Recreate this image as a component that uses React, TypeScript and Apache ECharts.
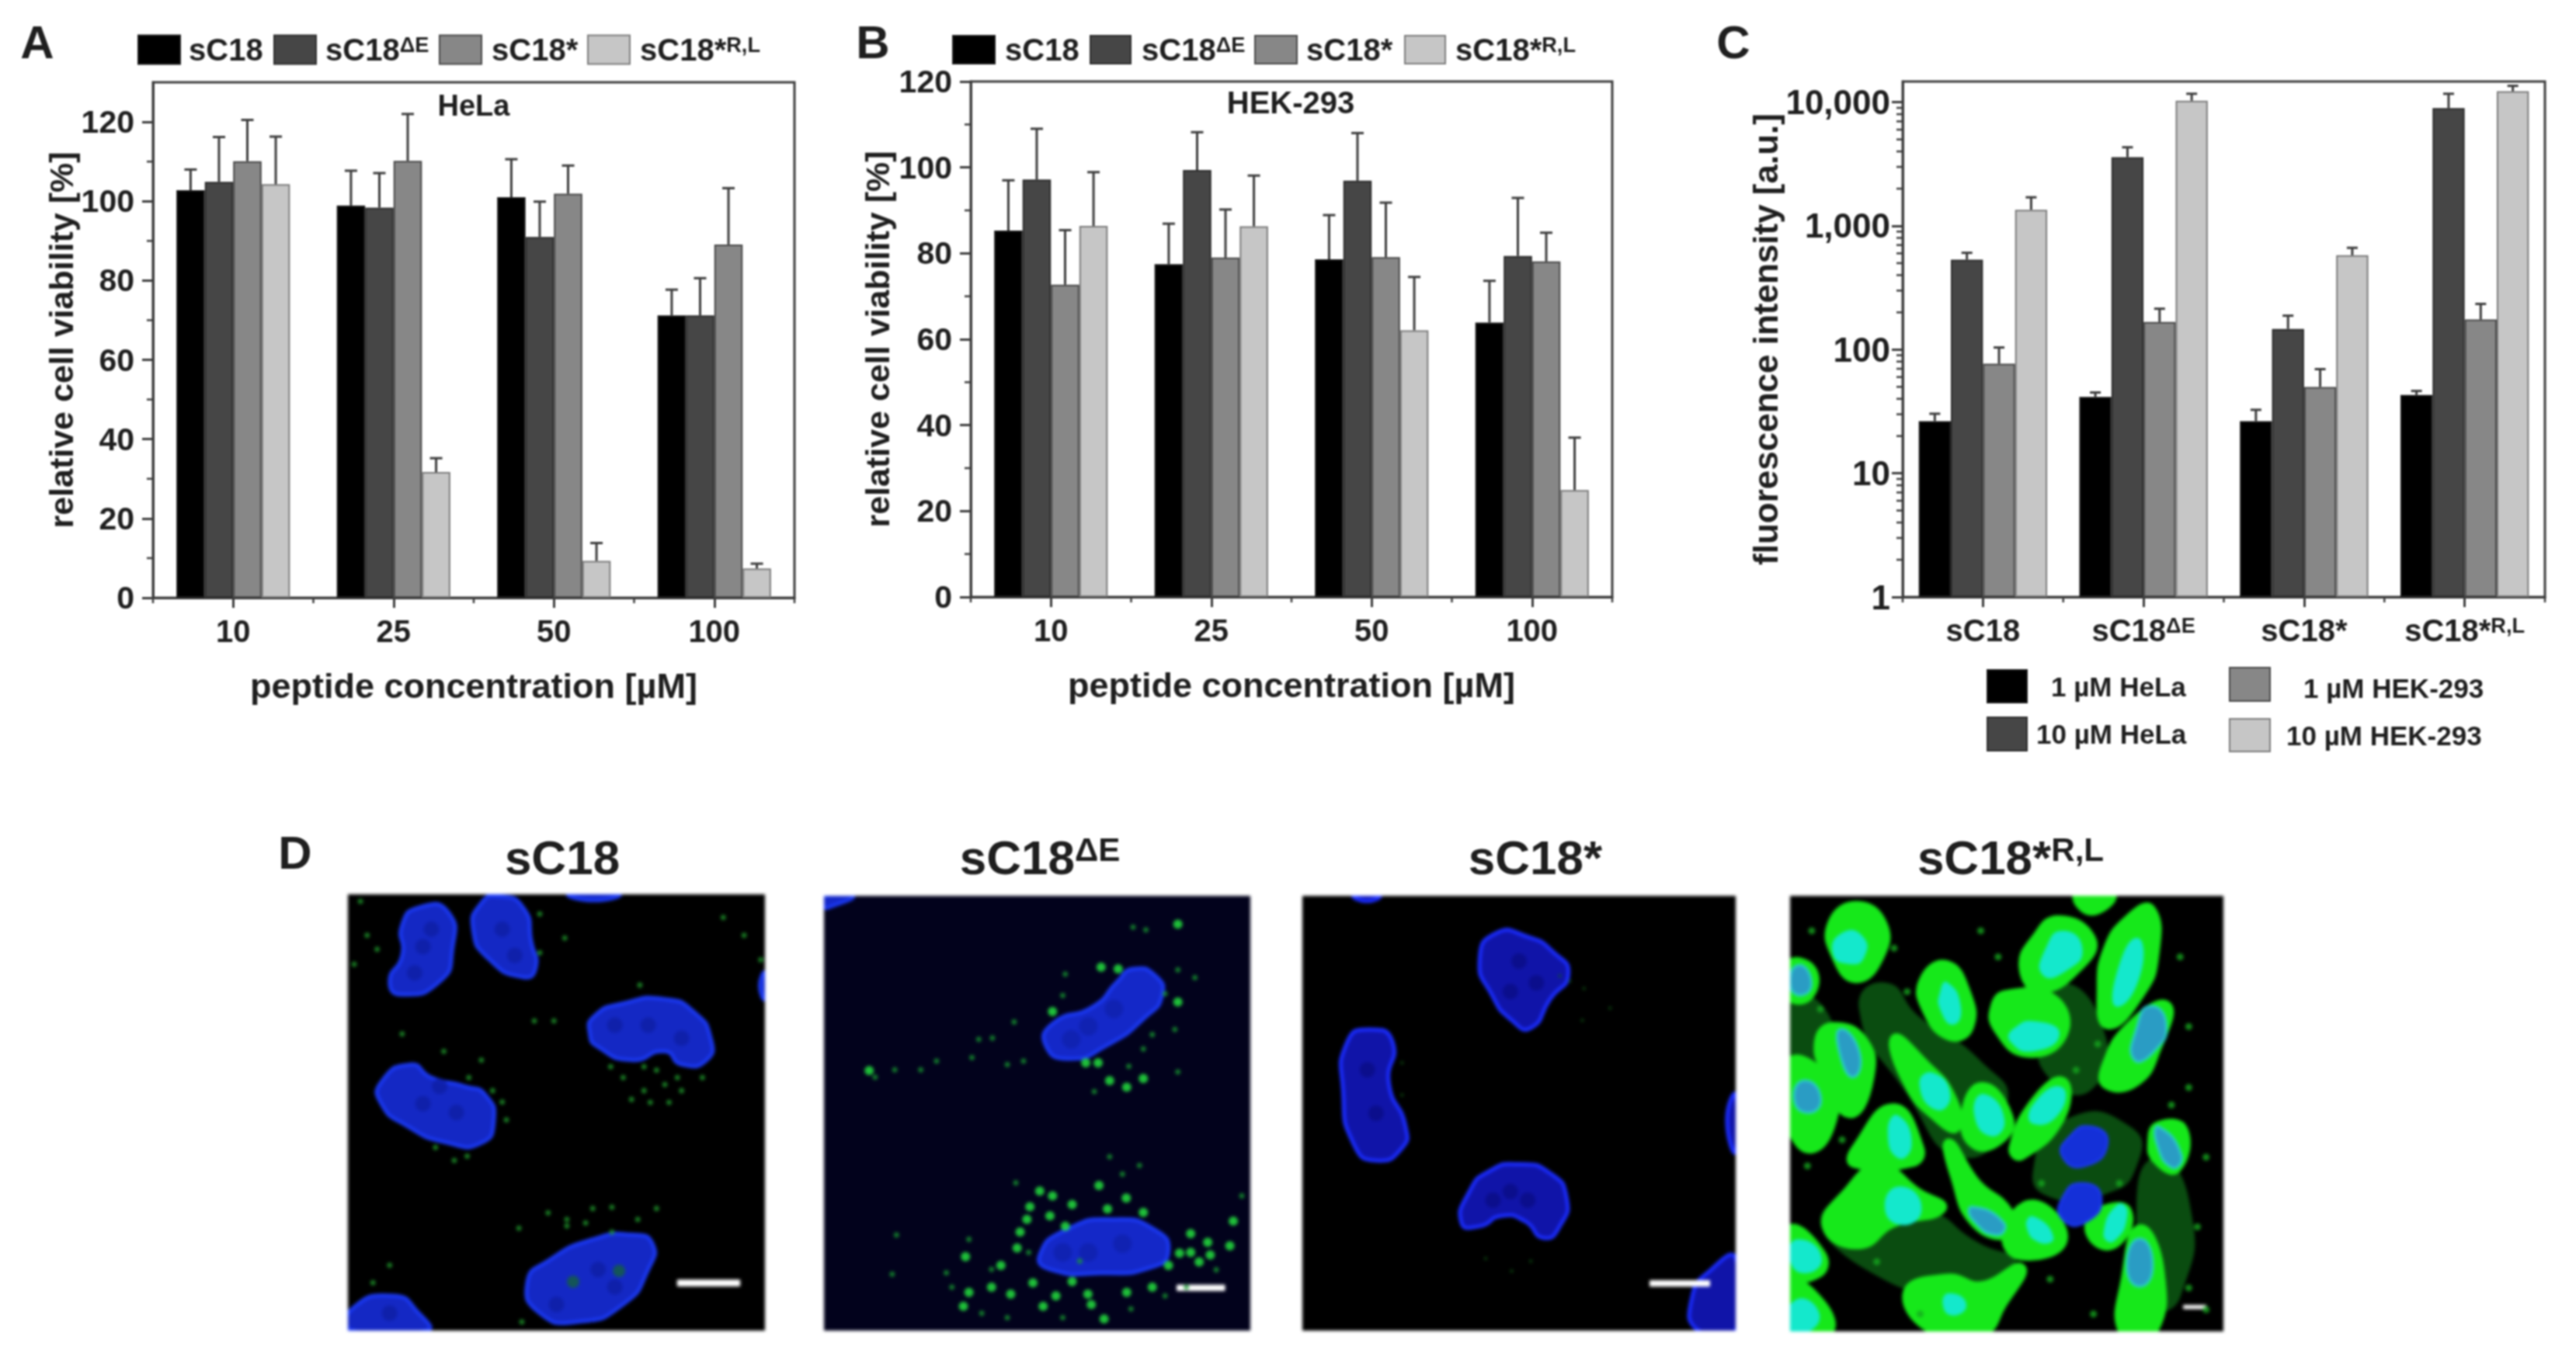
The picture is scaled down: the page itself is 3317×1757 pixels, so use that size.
import React, { useEffect, useRef } from 'react';
import * as echarts from 'echarts';

const peptides = ['sC18', 'sC18ΔE', 'sC18*', 'sC18*R,L'];
const concentrations = ['10', '25', '50', '100'];
const treatments = ['1 µM HeLa', '10 µM HeLa', '1 µM HEK-293', '10 µM HEK-293'];

// one row per peptide, one value per concentration
const helaViability = [
  [102.8, 98.9, 101, 71.2],
  [104.9, 98.4, 91, 71.2],
  [110.1, 110.2, 101.9, 89.1],
  [104.3, 31.7, 9.3, 7.4],
];
const helaErrorTops = [
  [108, 107.7, 110.6, 77.7],
  [116.2, 107.1, 99.9, 80.6],
  [120.5, 122, 109, 103.3],
  [116.3, 35.2, 13.8, 8.6],
];
const hekViability = [
  [85.3, 77.5, 78.6, 63.9],
  [97.2, 99.4, 96.9, 79.4],
  [72.7, 79, 79.1, 78.1],
  [86.4, 86.3, 62.1, 24.9],
];
const hekErrorTops = [
  [97, 86.9, 88.9, 73.6],
  [109, 108.2, 108, 92.9],
  [85.4, 90.2, 91.8, 84.8],
  [98.9, 98.1, 74.5, 37.1],
];
// one row per treatment, one value per peptide
const fluorescence = [
  [26.4, 41.5, 26.4, 43],
  [533, 3594, 147, 8950],
  [76.9, 167, 49.9, 175],
  [1352, 10280, 579, 12250],
];
const fluorescenceErrorTops = [
  [30.3, 45, 32.6, 46.3],
  [606, 4322, 188, 11700],
  [104, 214, 69.5, 234],
  [1703, 11700, 665, 13560],
];

const viabilityMajorTicks = [0, 20, 40, 60, 80, 100, 120];
const viabilityMinorTicks = [10, 30, 50, 70, 90, 110];
const logMajorTicks = [1, 10, 100, 1000, 10000];
const logMinorTicks = [
  2, 3, 4, 5, 6, 7, 8, 9, 20, 30, 40, 50, 60, 70, 80, 90, 200, 300, 400, 500, 600, 700, 800, 900,
  2000, 3000, 4000, 5000, 6000, 7000, 8000, 9000,
];
const bandEdges = [0, 1, 2, 3, 4];

// micrographs, outlines and spots in percent of each image
const nucleiOne = [
  [[17, 3], [24, 4], [25, 13], [22, 20], [13, 23], [10, 20], [13, 14], [13, 7]],
  [[36, 0.4], [42, 3], [44, 11], [45, 17], [42, 19], [34, 15], [30, 8], [32, 2]],
  [[59, 28], [66, 25], [76, 24], [83, 27], [87, 33], [86, 38], [80, 39], [76, 36], [68, 38], [60, 35], [58, 32]],
  [[15, 39], [20, 42], [28, 44], [33, 46], [35, 52], [32, 57], [24, 57], [14, 53], [8, 48], [8, 43]],
  [[73, 80], [68, 78], [59, 79], [48, 84], [43, 89], [46, 96], [55, 98], [66, 94], [72, 86]],
  [[1, 95], [11, 92], [17, 96], [19, 100], [1, 100]],
  [[53, 0], [65, 0], [59, 1.4]],
  [[100, 18], [98.8, 21], [100, 24]],
];
const patchesOne = [
  [18, 12], [20, 8], [16, 18], [37, 8], [40, 14], [64, 30], [72, 30], [80, 33], [18, 48], [26, 50], [22, 44], [60, 86], [50, 94], [64, 90], [10, 96],
];
const nucleoliOne = [[54, 88.8], [65, 86.3]];
const spotsOne = [
  [3, 1.6], [4.6, 9.4], [7, 12.6], [1.5, 16], [99, 15], [95, 9.4], [90, 5.3], [46, 13.4], [46, 4.5], [52, 10], [70, 20.8],
  [13, 32], [23, 36], [32, 38], [29, 42], [37, 47.6], [34.7, 45], [38, 51.7], [21, 58], [28.6, 60], [25.5, 61],
  [66, 42], [71, 45], [76, 43.6], [80, 45], [68, 47], [72.5, 47.7], [77, 47.7], [63, 39.5], [71, 39.5], [74, 40.3], [85, 42], [79, 42],
  [48, 73], [52.5, 74.5], [58.7, 72], [63.3, 71.7], [41, 76.5], [52.5, 76], [63.3, 77.4], [69.5, 74.5], [57, 75.3], [74, 72],
  [10, 85], [6, 89], [41.7, 98], [49.4, 29], [44.7, 29],
];
const scaleBarOne = [[[79, 88.4], [94, 88.4], [94, 89.8], [79, 89.8]]];

const nucleiTwo = [
  [[72.5, 16.8], [77.8, 18.4], [79.3, 22.9], [75.5, 27.8], [66.5, 34.3], [57.4, 37.5], [52, 34.4], [53.6, 29.4], [63.4, 25.3], [68.9, 19.6]],
  [[50.6, 82.6], [56.6, 76.9], [68, 74.4], [77.8, 76.9], [80.8, 81.8], [77, 85.4], [65, 86.8], [53, 85.9]],
  [[0, 0], [6.8, 0], [1.5, 2.5], [0, 2.5]],
];
const patchesTwo = [[62, 30], [68, 26], [58, 33], [62, 82], [70, 80], [56, 82]];
const brightSpotsTwo = [
  [83, 6.5], [65, 16.4], [69, 16.8], [53.6, 26.6], [83, 24.4], [64.3, 38.4], [61.4, 38.4], [67, 42.5], [71, 44], [74.9, 42], [10.6, 40.2],
  [58.2, 71], [53.6, 69], [48.3, 71.5], [47.6, 74.4], [53, 73.6], [64.5, 66.6], [70.9, 69.5], [74.9, 72.8], [66.5, 72], [45.3, 81],
  [41.5, 85], [33.2, 83], [34, 91.2], [32.7, 94.4], [39.3, 90], [43.8, 91.6], [51.4, 94.4], [54.4, 92], [58.2, 88.7], [62.7, 94],
  [65.7, 97.3], [71, 91.2], [80.8, 85], [83.4, 82.2], [86, 77.7], [90, 79.7], [95.2, 80.5], [96, 74.8], [86, 82], [90.6, 82.6],
  [88, 84.2], [61.9, 91.6], [49, 89], [46, 77.3], [50.6, 67.9], [56.6, 76], [77, 90],
];
const dimSpotsTwo = [
  [72.5, 7.2], [75.5, 7.8], [56.6, 18], [56, 22.9], [80, 22.5], [82.3, 30.7], [71.5, 39.2], [83, 40.5], [63.4, 45], [74.9, 35.2], [77, 31.9],
  [44.6, 29], [36.3, 33], [39.5, 32.7], [34.7, 37.2], [26.4, 38], [22.7, 40], [12, 41.7], [16.6, 40], [43, 38.8], [46.8, 38], [83, 17], [87, 18.8],
  [34, 79], [30, 90], [37, 96], [43, 97], [56, 97], [60, 84], [48, 82], [72, 95], [80, 92], [85, 90], [92, 86], [45, 66], [70, 64], [74, 62], [67, 60],
  [17, 78], [16, 87], [28.7, 86.7], [39.3, 85.9], [98, 69],
];
const scaleBarTwo = [[[82.8, 89.5], [94, 89.5], [94, 90.8], [82.8, 90.8]]];

const nucleiThree = [
  [[44.6, 8.6], [52, 9.4], [58, 13], [61.4, 18], [57.2, 23.7], [52.7, 30.4], [48.3, 28.6], [43.8, 22.9], [40.9, 14.7]],
  [[15.6, 30.7], [20.8, 33.5], [20, 43.3], [23.8, 53], [23, 58], [17, 60.9], [11.9, 57.2], [9.4, 45], [10.4, 33.5]],
  [[49.8, 61.7], [57.2, 63.8], [61, 69.5], [59.4, 76], [55.7, 78.7], [51.3, 74.8], [46, 73.6], [40.9, 76], [36.7, 75.2], [38.6, 67.9], [43, 63.4]],
  [[100, 83.4], [94.4, 85.9], [89.9, 92.4], [91.4, 100], [100, 100]],
  [[100, 45.8], [98, 51.5], [100, 58.9]],
  [[11.9, 0], [17.8, 0], [14.9, 1.2]],
];
const patchesThree = [[50, 15], [54, 20], [48, 22], [15, 40], [17, 50], [48, 68], [52, 70], [44, 70]];
const spotsThree = [
  [61.7, 19.6], [65, 21.3], [71, 25.8], [64.6, 28.6], [48.3, 86.3], [52.7, 84], [42.3, 83.4], [59.4, 18.4], [23, 38.4], [23, 45.8],
];
const scaleBarThree = [[[80.2, 88.5], [94, 88.5], [94, 89.8], [80.2, 89.8]]];

const hazeFour = [
  [[63.6, 51.4], [78.4, 53], [79.9, 62], [72.5, 68.5], [60.6, 69.3], [56.2, 62.8]],
  [[22, 20], [30, 28], [44, 38], [50, 48], [40, 60], [26, 44], [16, 26]],
  [[62, 20], [72, 30], [70, 44], [60, 42], [58, 30]],
  [[30, 72], [44, 80], [52, 84], [40, 90], [18, 86], [8, 72]],
  [[0, 24], [8, 26], [8, 36], [0, 38]],
  [[84, 60], [92, 70], [90, 92], [84, 94], [80, 76]],
];
const cellsFour = [
  [[15.3, 2.4], [21.2, 6.5], [20.5, 13.9], [15.3, 18.8], [10.8, 13.9], [9.8, 6.5]],
  [[36, 16], [40.4, 22], [41.2, 30], [36.8, 32], [31.6, 26], [30.9, 19.6]],
  [[61.9, 5.7], [69.3, 9.8], [67.1, 15.5], [57.9, 21.2], [54, 16.3], [56.9, 9.8]],
  [[83.2, 3.3], [83.9, 13.9], [80.9, 22], [73.5, 29.4], [72, 21.2], [73.5, 12.2], [78, 5.7]],
  [[50.2, 22.8], [60.5, 23.7], [62.8, 31.8], [54.7, 35.9], [48, 30.3], [47.5, 25.3]],
  [[86.8, 25.3], [84.4, 35.1], [79.9, 42.4], [73.2, 43.2], [73.2, 38.7], [78.3, 30.3]],
  [[10, 30.2], [16.8, 33.4], [18.2, 41.6], [13.8, 49.8], [8.6, 40.8], [6.8, 33.4]],
  [[0, 38.3], [8.6, 42.4], [10, 49.8], [4.9, 57.9], [0, 51.4]],
  [[24.2, 33], [30.9, 38.7], [36.8, 45.7], [38.2, 53], [33.8, 50.6], [27.9, 44]],
  [[44.3, 44], [50.2, 50.6], [48.7, 55.5], [42.8, 57], [40.6, 50.6]],
  [[62.8, 42.8], [62, 51.4], [53.2, 59.5], [51.7, 57.9], [56.2, 47.9]],
  [[23.8, 48.9], [29.7, 57.9], [28.2, 61], [14.9, 61.2], [15.5, 57.9]],
  [[20.5, 62.8], [29.7, 68.5], [34.8, 71.8], [23.5, 75], [16, 79.9], [8.6, 75.9], [13, 68.5]],
  [[36.8, 57], [42.8, 66], [50.2, 72.6], [50.2, 77.5], [42.8, 75], [38.2, 64.4]],
  [[56.2, 71], [62.8, 79], [53.2, 82.4], [50.2, 77.5]],
  [[74, 71.8], [77.7, 72.6], [76.3, 78.3], [71.8, 79.9], [69.3, 75]],
  [[85.1, 53], [90.6, 53.8], [89.1, 62.4], [84.7, 60.4], [83.7, 56.6]],
  [[80.7, 76.7], [85.1, 85.6], [83.6, 100], [77, 100], [77.7, 87.3]],
  [[36.1, 88], [44.3, 89.7], [53.2, 85.6], [48.7, 93.8], [44.3, 100], [33.9, 100], [27.2, 91.4]],
  [[0, 76.7], [7.1, 82.4], [6.4, 86.5], [0, 86.5]],
  [[0, 89.3], [7.1, 93.8], [8.6, 100], [0, 100]],
  [[66.6, 0], [74, 0], [69.5, 3.3]],
  [[0, 15.9], [4.9, 17.1], [4.2, 22.8], [0, 22.8]],
];
const cyanNucleiFour = [
  [[12.2, 8.6], [16.6, 9.4], [17, 13.9], [13.8, 15.5], [10, 13.1]],
  [[36.2, 20], [39.2, 25.2], [37.7, 29.4], [34.8, 26], [34.8, 22]],
  [[62.9, 8.2], [67.3, 12.2], [63.6, 17.1], [58.4, 18], [59.1, 12.2]],
  [[80, 9.8], [80.7, 17.9], [75.5, 25.3], [75.5, 17.9]],
  [[56.9, 29], [62, 31.8], [56.2, 35.5], [51, 33.4], [51.7, 30.6]],
  [[33, 40.8], [36.8, 45.7], [33.8, 49], [30, 43.2]],
  [[44.9, 45.7], [49.3, 51.4], [46.3, 55], [42.6, 49.8]],
  [[62.5, 44], [62, 49.8], [56.2, 52.2], [56.2, 48]],
  [[24.9, 50.6], [27.9, 57], [24.9, 60], [22.7, 53.8]],
  [[25.7, 66.9], [30.2, 71.8], [25.7, 75.4], [22, 71]],
  [[56.2, 73.8], [60.6, 78.3], [57.7, 79.5], [54.7, 75.9]],
  [[75.7, 71], [77.7, 73], [74.7, 79.1], [72.5, 77.5]],
  [[1.9, 79], [7.1, 83], [3.4, 86.5], [0, 83]],
  [[1.2, 93], [6.4, 95.4], [4.2, 100], [0, 99.5]],
  [[36.8, 91.4], [40.5, 93.8], [37.6, 96.2], [35.4, 93.8]],
];
const tealNucleiFour = [
  [[83, 25.3], [86.8, 29.4], [83.8, 35.9], [79.3, 37.5], [80, 30.2]],
  [[11.6, 30.6], [16, 35.9], [14.6, 41.6], [11.6, 36.7]],
  [[1.9, 15.9], [4.9, 19.6], [2.7, 22.8], [0, 20.4]],
  [[3.4, 42.4], [7.1, 46.5], [4.2, 49.8], [0.9, 46.5]],
  [[42, 71.4], [49.3, 75], [47.7, 77.9], [42, 74.2]],
  [[85.1, 53], [90.3, 59.5], [88.1, 62.4], [84.4, 56.2]],
  [[80.7, 78.7], [83.7, 84.8], [80.7, 89.7], [77.7, 84.8]],
];
const blueNucleiFour = [
  [[69.5, 53], [73.2, 57], [68, 62], [62.9, 59.9], [64.3, 55.5]],
  [[67.3, 66], [71.8, 69.3], [68, 75], [62.9, 74.2], [62.9, 69.3]],
];
const spotsFour = [
  [5, 8], [7, 26], [24, 12], [27, 22], [44, 8], [48, 14], [71, 34], [90, 14], [92, 30], [92, 44], [88, 48], [66, 40],
  [58, 66], [76, 66], [96, 60], [94, 76], [92, 90], [96, 95], [12, 56], [4, 62], [20, 84], [60, 88], [70, 96], [30, 96],
];
const scaleBarFour = [[[90.8, 94], [96, 94], [96, 94.8], [90.8, 94.8]]];

const FONT = 'Liberation Sans';
const INK = '#1f1f1f';
const LINE = '#3d3d3d';
const barColors = ['#000000', '#464646', '#878787', '#c6c6c6'];
const barBorders = ['#1a1a1a', '#2e2e2e', '#484848', '#7c7c7c'];

const richText = (size: number) => ({
  sup: { fontFamily: FONT, fontWeight: 'bold', color: INK, fontSize: size * 0.68, verticalAlign: 'top', padding: [0, 0, size * 0.22, 0] },
});

const richLabel = (name: string) => {
  if (name === 'sC18ΔE') return 'sC18{sup|ΔE}';
  if (name === 'sC18*R,L') return 'sC18*{sup|R,L}';
  return name;
};

const textBase = (size: number) => ({ fontFamily: FONT, fontWeight: 'bold' as const, fontSize: size, color: INK });

const errorSeries = (panel: number, tops: number[][], values: number[][], fraction: number, capWidth: number) =>
  tops.map((row, s) => ({
    type: 'custom',
    xAxisIndex: panel,
    yAxisIndex: panel,
    silent: true,
    z: 5,
    encode: { x: 0, y: 2 },
    data: row.map((top, c) => [c, values[s][c], top]),
    renderItem: (_: any, api: any) => {
      const band = api.size([1, 0])[0];
      const base = api.coord([api.value(0), api.value(1)]);
      const top = api.coord([api.value(0), api.value(2)]);
      const x = base[0] + (s - 1.5) * fraction * band;
      return {
        type: 'group',
        children: [
          { type: 'line', shape: { x1: x, y1: base[1], x2: x, y2: top[1] }, style: { stroke: LINE, lineWidth: 3 } },
          { type: 'line', shape: { x1: x - capWidth / 2, y1: top[1], x2: x + capWidth / 2, y2: top[1] }, style: { stroke: LINE, lineWidth: 3 } },
        ],
      };
    },
  }));

const minorTickSeries = (panel: number, ticks: number[]) => ({
  type: 'custom',
  xAxisIndex: panel,
  yAxisIndex: panel,
  silent: true,
  encode: { x: 0, y: 1 },
  data: ticks.map((t) => [0, t]),
  renderItem: (params: any, api: any) => {
    const x = params.coordSys.x;
    const y = api.coord([0, api.value(1)])[1];
    return { type: 'line', shape: { x1: x, y1: y, x2: x - 8, y2: y }, style: { stroke: LINE, lineWidth: 2.5 } };
  },
});

const bandTickSeries = (panel: number, floor: number) => ({
  type: 'custom',
  xAxisIndex: panel,
  yAxisIndex: panel,
  silent: true,
  encode: { x: 0, y: 1 },
  data: bandEdges.map((e) => [e, floor]),
  renderItem: (params: any, api: any) => {
    const x = params.coordSys.x + (api.value(0) * params.coordSys.width) / concentrations.length;
    const y = params.coordSys.y + params.coordSys.height;
    return { type: 'line', shape: { x1: x, y1: y, x2: x, y2: y + 7 }, style: { stroke: LINE, lineWidth: 2.5 } };
  },
});

const legendItem = (name: string, left: number, top: number, width: number, height: number, gap: number, size: number, drop = 0) => ({
  show: true,
  data: [{ name, icon: 'rect' }],
  left,
  top,
  itemWidth: width,
  itemHeight: height,
  padding: 0,
  selectedMode: false,
  formatter: richLabel,
  textStyle: { ...textBase(size), padding: [drop, 0, 0, gap], rich: richText(size) },
});

const heading = (text: string, left: number, top: number, size: number) => ({
  text,
  left,
  top,
  textAlign: 'center',
  textVerticalAlign: 'middle',
  padding: 0,
  textStyle: { ...textBase(size), rich: { ...richText(size), b: textBase(size) } },
});

const categoryAxis = (gridIndex: number, data: string[], name: string, nameGap: number) => ({
  type: 'category',
  gridIndex,
  data,
  name,
  nameLocation: 'middle',
  nameGap,
  nameTextStyle: textBase(45),
  axisLine: { show: true, lineStyle: { color: LINE, width: 3 } },
  axisTick: { show: true, alignWithLabel: true, length: 13, lineStyle: { color: LINE, width: 3 } },
  axisLabel: { ...textBase(40), margin: 23, interval: 0, formatter: richLabel, rich: richText(40) },
});

const viabilityAxis = (gridIndex: number, max: number, nameGap: number) => ({
  type: 'value',
  gridIndex,
  min: 0,
  max,
  interval: 20,
  name: 'relative cell viability [%]',
  nameLocation: 'middle',
  nameGap,
  nameTextStyle: textBase(43),
  splitLine: { show: false },
  axisLine: { show: true, lineStyle: { color: LINE, width: 3 } },
  axisTick: { show: true, length: 14, customValues: viabilityMajorTicks, lineStyle: { color: LINE, width: 3 } },
  axisLabel: { ...textBase(41), margin: 24, customValues: viabilityMajorTicks },
});

const mainOption = (): any => ({
  animation: false,
  backgroundColor: '#ffffff',
  grid: [
    { left: 197, top: 106, width: 826, height: 664, show: true, borderColor: LINE, borderWidth: 3, backgroundColor: 'transparent' },
    { left: 1250, top: 105, width: 826, height: 664, show: true, borderColor: LINE, borderWidth: 3, backgroundColor: 'transparent' },
    { left: 2450, top: 105, width: 827, height: 664, show: true, borderColor: LINE, borderWidth: 3, backgroundColor: 'transparent' },
  ],
  title: [
    heading('A', 48, 54, 60),
    heading('B', 1124, 54, 60),
    heading('C', 2232, 54, 60),
    heading('D', 380, 1098, 60),
    heading('HeLa', 610, 136, 38),
    heading('HEK-293', 1662, 132, 40),
    heading('sC18', 724, 1104, 62),
    heading('{b|sC18}{sup|ΔE}', 1339, 1104, 62),
    heading('sC18*', 1977, 1104, 62),
    heading('{b|sC18*}{sup|R,L}', 2589, 1104, 62),
  ],
  legend: [
    legendItem(peptides[0], 177, 44, 54, 37, 6, 40),
    legendItem(peptides[1], 352, 44, 54, 37, 7, 40),
    legendItem(peptides[2], 565, 44, 54, 37, 8, 40),
    legendItem(peptides[3], 756, 44, 54, 37, 8, 40),
    legendItem(peptides[0], 1226, 44, 54, 36, 8, 40),
    legendItem(peptides[1], 1403, 44, 52, 36, 9, 40),
    legendItem(peptides[2], 1615, 44, 54, 36, 7, 40),
    legendItem(peptides[3], 1808, 44, 52, 36, 8, 40),
    legendItem(treatments[0], 2558, 862, 51, 42, 26, 35),
    legendItem(treatments[1], 2558, 923, 51, 43, 7, 35),
    legendItem(treatments[2], 2870, 859, 52, 43, 38, 35, 10),
    legendItem(treatments[3], 2870, 925, 52, 42, 16, 35),
  ],
  xAxis: [
    categoryAxis(0, concentrations, 'peptide concentration [µM]', 91),
    categoryAxis(1, concentrations, 'peptide concentration [µM]', 91),
    categoryAxis(2, peptides, '', 0),
  ],
  yAxis: [
    viabilityAxis(0, 130, 97),
    viabilityAxis(1, 120, 99),
    {
      type: 'log',
      gridIndex: 2,
      logBase: 10,
      min: 1,
      max: 14700,
      name: 'fluorescence intensity [a.u.]',
      nameLocation: 'middle',
      nameGap: 150,
      nameTextStyle: textBase(44),
      splitLine: { show: false },
      axisLine: { show: true, lineStyle: { color: LINE, width: 3 } },
      axisTick: { show: true, length: 14, customValues: logMajorTicks, lineStyle: { color: LINE, width: 3 } },
      axisLabel: {
        ...textBase(44),
        margin: 16,
        customValues: logMajorTicks,
        formatter: (v: number) => Number(v).toLocaleString('en-US'),
      },
    },
  ],
  series: [
    ...peptides.map((name, s) => ({
      type: 'bar', name, xAxisIndex: 0, yAxisIndex: 0, data: helaViability[s], barWidth: '17.7%', barGap: '0%',
      itemStyle: { color: barColors[s], borderColor: barBorders[s], borderWidth: 2 },
    })),
    ...peptides.map((name, s) => ({
      type: 'bar', name, xAxisIndex: 1, yAxisIndex: 1, data: hekViability[s], barWidth: '17.7%', barGap: '0%',
      itemStyle: { color: barColors[s], borderColor: barBorders[s], borderWidth: 2 },
    })),
    ...treatments.map((name, s) => ({
      type: 'bar', name, xAxisIndex: 2, yAxisIndex: 2, data: fluorescence[s], barWidth: '20%', barGap: '0%',
      itemStyle: { color: barColors[s], borderColor: barBorders[s], borderWidth: 2 },
    })),
    ...errorSeries(0, helaErrorTops, helaViability, 0.177, 16),
    ...errorSeries(1, hekErrorTops, hekViability, 0.177, 16),
    ...errorSeries(2, fluorescenceErrorTops, fluorescence, 0.2, 14),
    minorTickSeries(0, viabilityMinorTicks),
    minorTickSeries(1, viabilityMinorTicks),
    minorTickSeries(2, logMinorTicks),
    bandTickSeries(0, 0),
    bandTickSeries(1, 0),
    bandTickSeries(2, 1),
  ],
});

const outlines = (panel: number, shapes: number[][][], fill: string, stroke: string, lineWidth: number, smooth: number) => ({
  type: 'custom',
  xAxisIndex: panel,
  yAxisIndex: panel,
  silent: true,
  clip: true,
  encode: { x: 0, y: 1 },
  data: shapes.map((s) => s[0]),
  renderItem: (params: any, api: any) => ({
    type: 'polygon',
    shape: { points: shapes[params.dataIndex].map((p) => api.coord(p)), smooth },
    style: { fill, stroke, lineWidth },
  }),
});

const spots = (panel: number, data: number[][], color: string, size: number) => ({
  type: 'scatter',
  xAxisIndex: panel,
  yAxisIndex: panel,
  silent: true,
  data,
  symbolSize: size,
  itemStyle: { color },
});

// pixel frames are relative to the micrograph canvas, which starts at 440,1146
const imageFrames = [
  { left: 8, top: 6, width: 537, height: 562, backgroundColor: '#000000' },
  { left: 621, top: 8, width: 549, height: 560, backgroundColor: '#02021c' },
  { left: 1237, top: 8, width: 558, height: 560, backgroundColor: '#000000' },
  { left: 1865, top: 8, width: 558, height: 561, backgroundColor: '#000000' },
];

const micrographOption = (): any => ({
  animation: false,
  backgroundColor: 'transparent',
  grid: imageFrames.map((f) => ({ ...f, show: true, borderWidth: 0 })),
  xAxis: imageFrames.map((_, i) => ({ type: 'value', gridIndex: i, min: 0, max: 100, show: false })),
  yAxis: imageFrames.map((_, i) => ({ type: 'value', gridIndex: i, min: 0, max: 100, inverse: true, show: false })),
  series: [
    spots(0, spotsOne, '#1f9a2c', 7),
    outlines(0, nucleiOne, '#1428c4', '#1a38f2', 5, 0.6),
    spots(0, patchesOne, '#0e1ea4', 20),
    spots(0, nucleoliOne, '#14603c', 16),
    outlines(0, scaleBarOne, '#ffffff', '#ffffff', 1, 0),

    spots(1, dimSpotsTwo, '#169a30', 7),
    spots(1, brightSpotsTwo, '#26ee40', 12),
    outlines(1, nucleiTwo, '#1428c8', '#1a38f2', 5, 0.6),
    spots(1, patchesTwo, '#0f20ac', 24),
    outlines(1, scaleBarTwo, '#ffffff', '#ffffff', 1, 0),

    spots(2, spotsThree, '#0f5c14', 4),
    outlines(2, nucleiThree, '#1014a8', '#1a2cff', 5, 0.6),
    spots(2, patchesThree, '#0a0c84', 20),
    outlines(2, scaleBarThree, '#ffffff', '#ffffff', 1, 0),

    outlines(3, hazeFour, '#0a4c10', '#0a4c10', 1, 0.6),
    spots(3, spotsFour, '#15a81e', 9),
    outlines(3, cellsFour, '#16e81a', '#16e81a', 14, 0.5),
    outlines(3, tealNucleiFour, '#2a9cc4', '#26d0c8', 3, 0.6),
    outlines(3, cyanNucleiFour, '#14e8cc', '#14e8cc', 2, 0.6),
    outlines(3, blueNucleiFour, '#1430d8', '#1a38f2', 3, 0.6),
    outlines(3, scaleBarFour, '#ffffff', '#ffffff', 1, 0),
  ],
});

export default function App() {
  const mainRef = useRef<HTMLDivElement>(null);
  const imageRef = useRef<HTMLDivElement>(null);

  useEffect(() => {
    if (!mainRef.current || !imageRef.current) return;
    const main = echarts.init(mainRef.current, undefined, { renderer: 'svg' });
    const images = echarts.init(imageRef.current, undefined, { renderer: 'svg' });
    main.setOption(mainOption());
    images.setOption(micrographOption());
    return () => {
      main.dispose();
      images.dispose();
    };
  }, []);

  return (
    <div style={{ position: 'absolute', left: 0, top: 0, width: 3317, height: 1757, background: '#fff', overflow: 'hidden' }}>
      <div ref={mainRef} style={{ position: 'absolute', left: 0, top: 0, width: 3317, height: 1757, filter: 'blur(0.8px)' }} />
      <div ref={imageRef} style={{ position: 'absolute', left: 440, top: 1146, width: 2440, height: 580, filter: 'blur(2px)' }} />
    </div>
  );
}
